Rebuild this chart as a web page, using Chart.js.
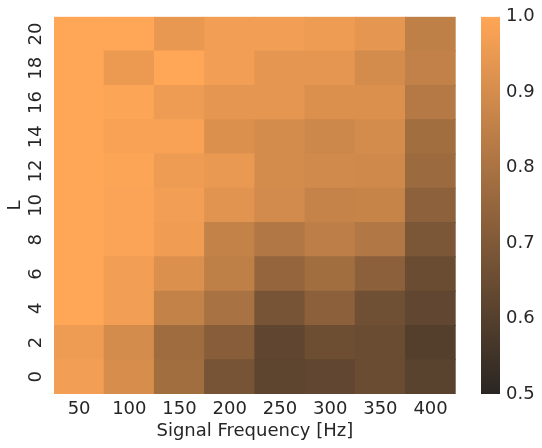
<!DOCTYPE html>
<html>
<head>
<meta charset="utf-8">
<script src="https://cdn.jsdelivr.net/npm/chart.js@4"></script>
<style>
  html, body { margin: 0; padding: 0; background: #ffffff; }
  #wrap { position: relative; width: 542px; height: 448px; }
  #main { position: absolute; left: 0; top: 0; }
  #cbar { position: absolute; left: 470px; top: 0; }
</style>
</head>
<body>
<div id="wrap">
  <canvas id="main" width="542" height="448"></canvas>
  <canvas id="cbar" width="72" height="448"></canvas>
</div>
<script>
// ---- data ----
const frequencies = ['50', '100', '150', '200', '250', '300', '350', '400'];
const Ls = ['0', '2', '4', '6', '8', '10', '12', '14', '16', '18', '20'];
const L0  = [0.97, 0.905, 0.78, 0.68, 0.62, 0.63, 0.647, 0.61];
const L2  = [0.96, 0.90, 0.772, 0.72, 0.626, 0.658, 0.65, 0.598];
const L4  = [1.0, 0.97, 0.858, 0.795, 0.68, 0.728, 0.663, 0.63];
const L6  = [1.0, 0.97, 0.915, 0.85, 0.75, 0.78, 0.728, 0.647];
const L8  = [1.0, 0.99, 0.965, 0.858, 0.816, 0.844, 0.816, 0.69];
const L10 = [1.0, 0.99, 0.97, 0.93, 0.895, 0.863, 0.867, 0.73];
const L12 = [1.0, 0.995, 0.96, 0.95, 0.90, 0.89, 0.885, 0.765];
const L14 = [1.0, 0.985, 0.985, 0.915, 0.90, 0.88, 0.90, 0.78];
const L16 = [1.0, 0.995, 0.96, 0.94, 0.94, 0.915, 0.915, 0.826];
const L18 = [1.0, 0.955, 1.0, 0.97, 0.94, 0.94, 0.90, 0.855];
const L20 = [1.0, 1.0, 0.947, 0.97, 0.97, 0.96, 0.94, 0.85];
const rows = [L0, L2, L4, L6, L8, L10, L12, L14, L16, L18, L20];
const cbarTicks = [0.5, 0.6, 0.7, 0.8, 0.9, 1.0];
const vmin = 0.5, vmax = 1.0;

// ---- colormap ----
const DARK = [42, 38, 35];
const ORANGE = [255, 166, 87];
function colorFor(v) {
  let t = (v - vmin) / (vmax - vmin);
  t = Math.max(0, Math.min(1, t));
  const c = DARK.map((d, i) => Math.round(d + t * (ORANGE[i] - d)));
  return `rgb(${c[0]},${c[1]},${c[2]})`;
}

const TEXT = '#262626';
const FONT = 'DejaVu Sans';

// ---- heatmap ----
const datasets = rows.map((vals, i) => ({
  label: 'L=' + Ls[i],
  data: frequencies.map(() => [i - 0.5, i + 0.5]),
  backgroundColor: vals.map(colorFor),
  borderWidth: 0,
  grouped: false,
  barPercentage: 1,
  categoryPercentage: 1,
  inflateAmount: 0.5
}));

new Chart(document.getElementById('main'), {
  type: 'bar',
  data: { labels: frequencies, datasets },
  options: {
    responsive: false,
    animation: false,
    devicePixelRatio: 1,
    layout: { padding: { left: 0, top: 13, right: 86.3, bottom: 0 } },
    plugins: { legend: { display: false }, tooltip: { enabled: false } },
    scales: {
      x: {
        type: 'category',
        offset: true,
        grid: { display: false, drawTicks: false },
        border: { display: false },
        ticks: { color: TEXT, font: { family: FONT, size: 18 }, padding: 5, maxRotation: 0, minRotation: 0 },
        title: { display: true, text: 'Signal Frequency [Hz]', color: TEXT, font: { family: FONT, size: 18 }, padding: { top: 4, bottom: 6 } },
        afterFit: (s) => { s.height = 54; }
      },
      y: {
        type: 'linear',
        min: -0.5,
        max: 10.5,
        grid: { display: false, drawTicks: false },
        border: { display: false },
        afterBuildTicks: (s) => { s.ticks = Ls.map((_, i) => ({ value: i })); },
        ticks: {
          color: TEXT,
          font: { family: FONT, size: 18 },
          padding: 6,
          minRotation: 90,
          maxRotation: 90,
          crossAlign: 'center',
          callback: (v) => Ls[v]
        },
        title: { display: true, text: 'L', color: TEXT, font: { family: FONT, size: 18 }, padding: { top: 5, bottom: 0 } },
        afterFit: (s) => { s.width = 54; }
      }
    }
  }
});

// ---- colorbar ----
new Chart(document.getElementById('cbar'), {
  type: 'bar',
  data: {
    labels: ['cbar'],
    datasets: [{
      data: [[vmin, vmax]],
      borderWidth: 0,
      barPercentage: 1,
      categoryPercentage: 1,
      backgroundColor: (ctx) => {
        const chart = ctx.chart;
        if (!chart.chartArea) return colorFor(0.75);
        const ys = chart.scales.y;
        const g = chart.ctx.createLinearGradient(0, ys.getPixelForValue(vmin), 0, ys.getPixelForValue(vmax));
        g.addColorStop(0, colorFor(vmin));
        g.addColorStop(1, colorFor(vmax));
        return g;
      }
    }]
  },
  options: {
    responsive: false,
    animation: false,
    devicePixelRatio: 1,
    layout: { padding: { left: 11, top: 13, right: 0, bottom: 54 } },
    plugins: { legend: { display: false }, tooltip: { enabled: false } },
    scales: {
      x: { display: false, offset: true },
      y: {
        position: 'right',
        min: vmin,
        max: vmax,
        grid: { display: false, drawTicks: false },
        border: { display: false },
        afterBuildTicks: (s) => { s.ticks = cbarTicks.map(v => ({ value: v })); },
        ticks: {
          color: TEXT,
          font: { family: FONT, size: 18 },
          padding: 6,
          callback: (v) => Number(v).toFixed(1)
        },
        afterFit: (s) => { s.width = 42; }
      }
    }
  }
});
</script>
</body>
</html>
